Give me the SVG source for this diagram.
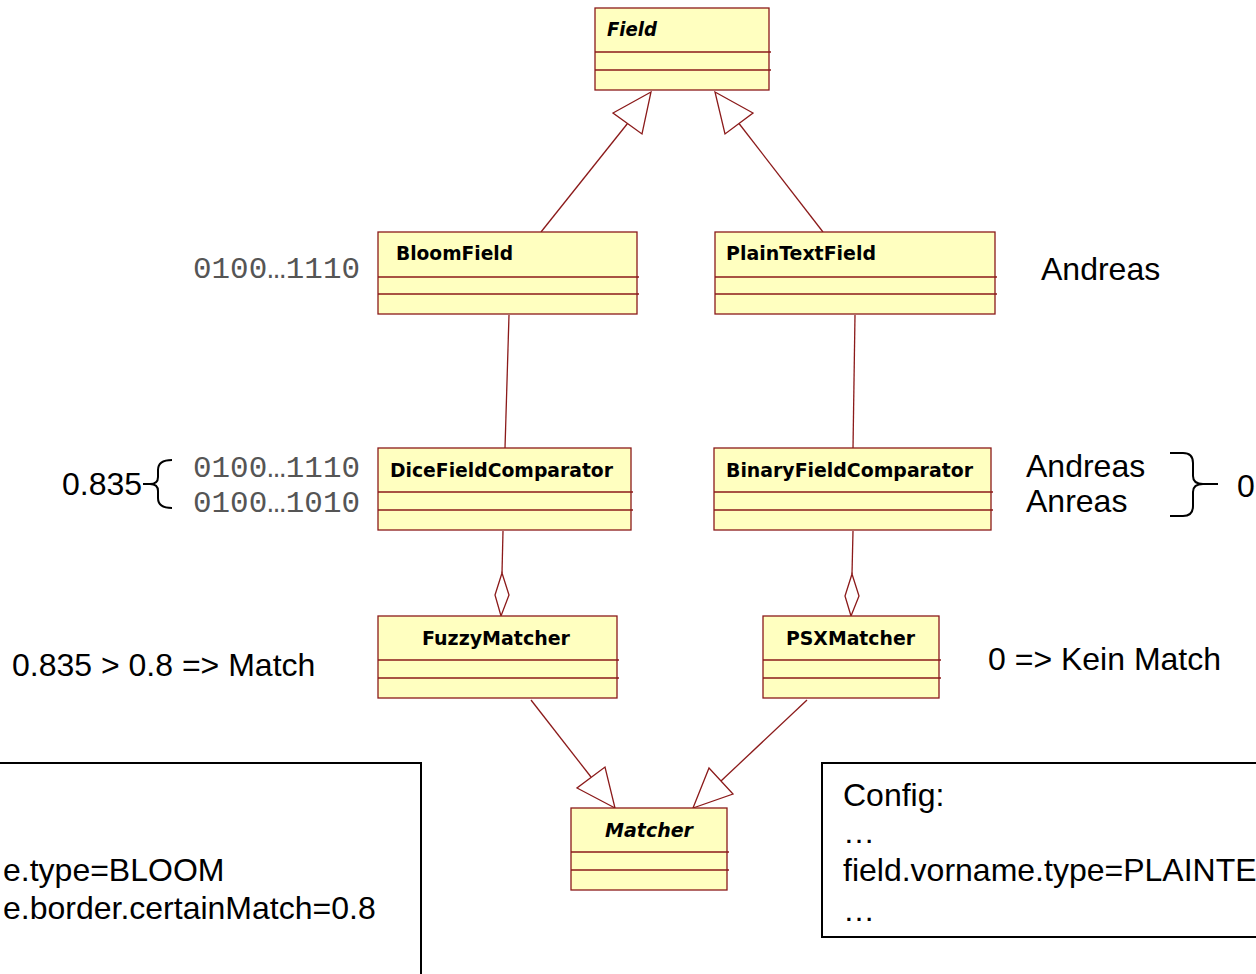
<svg xmlns="http://www.w3.org/2000/svg" width="1256" height="974" viewBox="0 0 1256 974">
<style>
.box{fill:#FFFFC0;stroke:#8B1A1A;stroke-width:1.3}
.sep{stroke:#8B1A1A;stroke-width:1.3}
.cls{font-family:"DejaVu Sans",Verdana,sans-serif;font-weight:bold;font-size:19.5px;fill:#000}
.abs{font-style:italic}
.lbl{font-family:"Liberation Sans",Arial,sans-serif;font-size:32px;fill:#000}
.mono{font-family:"Liberation Mono","Courier New",monospace;font-size:30px;fill:#555}
.edge{stroke:#8B1A1A;stroke-width:1.3;fill:none}
.head{stroke:#8B1A1A;stroke-width:1.3;fill:#fff}
.note{fill:none;stroke:#000;stroke-width:2}
.brace{fill:none;stroke:#000;stroke-width:2}
</style>
<rect width="1256" height="974" fill="#fff"/>
<g id="connectors">
<line class="edge" x1="541" y1="232" x2="627.5" y2="123.5"/>
<polygon class="head" points="651,92 613,113 642,134"/>
<line class="edge" x1="823" y1="232" x2="739" y2="123.5"/>
<polygon class="head" points="715,92 753,113 725,134"/>
<line class="edge" x1="509" y1="315" x2="505" y2="448"/>
<line class="edge" x1="855" y1="315" x2="853" y2="448"/>
<line class="edge" x1="503" y1="531" x2="502" y2="573"/>
<polygon class="head" points="502,573 509,595 501,616 495,595"/>
<line class="edge" x1="853" y1="531" x2="852" y2="574"/>
<polygon class="head" points="852,574 859,596 851,616 845,596"/>
<line class="edge" x1="531" y1="700" x2="591" y2="777"/>
<polygon class="head" points="615,808 577,788 605,767"/>
<line class="edge" x1="807" y1="700" x2="721" y2="781"/>
<polygon class="head" points="693,808 709,768 733,794"/>
</g>
<g id="Field">
<rect class="box" x="595" y="8" width="174" height="82"/>
<line class="sep" x1="595" y1="52" x2="771" y2="52"/>
<line class="sep" x1="595" y1="70" x2="771" y2="70"/>
<text class="cls abs" x="607" y="36" textLength="50" lengthAdjust="spacingAndGlyphs">Field</text>
</g>
<g id="BloomField">
<rect class="box" x="378" y="232" width="259" height="82"/>
<line class="sep" x1="378" y1="277" x2="639" y2="277"/>
<line class="sep" x1="378" y1="294" x2="639" y2="294"/>
<text class="cls" x="396" y="260" textLength="117" lengthAdjust="spacingAndGlyphs">BloomField</text>
</g>
<g id="PlainTextField">
<rect class="box" x="715" y="232" width="280" height="82"/>
<line class="sep" x1="715" y1="277" x2="997" y2="277"/>
<line class="sep" x1="715" y1="294" x2="997" y2="294"/>
<text class="cls" x="726" y="260" textLength="150" lengthAdjust="spacingAndGlyphs">PlainTextField</text>
</g>
<g id="DiceFieldComparator">
<rect class="box" x="378" y="448" width="253" height="82"/>
<line class="sep" x1="378" y1="492" x2="633" y2="492"/>
<line class="sep" x1="378" y1="510" x2="633" y2="510"/>
<text class="cls" x="390" y="477" textLength="223" lengthAdjust="spacingAndGlyphs">DiceFieldComparator</text>
</g>
<g id="BinaryFieldComparator">
<rect class="box" x="714" y="448" width="277" height="82"/>
<line class="sep" x1="714" y1="492" x2="993" y2="492"/>
<line class="sep" x1="714" y1="510" x2="993" y2="510"/>
<text class="cls" x="726" y="477" textLength="247" lengthAdjust="spacingAndGlyphs">BinaryFieldComparator</text>
</g>
<g id="FuzzyMatcher">
<rect class="box" x="378" y="616" width="239" height="82"/>
<line class="sep" x1="378" y1="660" x2="619" y2="660"/>
<line class="sep" x1="378" y1="678" x2="619" y2="678"/>
<text class="cls" x="422" y="645" textLength="148" lengthAdjust="spacingAndGlyphs">FuzzyMatcher</text>
</g>
<g id="PSXMatcher">
<rect class="box" x="763" y="616" width="176" height="82"/>
<line class="sep" x1="763" y1="660" x2="941" y2="660"/>
<line class="sep" x1="763" y1="678" x2="941" y2="678"/>
<text class="cls" x="786" y="645" textLength="129" lengthAdjust="spacingAndGlyphs">PSXMatcher</text>
</g>
<g id="Matcher">
<rect class="box" x="571" y="808" width="156" height="82"/>
<line class="sep" x1="571" y1="852" x2="729" y2="852"/>
<line class="sep" x1="571" y1="870" x2="729" y2="870"/>
<text class="cls abs" x="605" y="837" textLength="88" lengthAdjust="spacingAndGlyphs">Matcher</text>
</g>
<g id="annotations">
<text class="mono" x="193" y="278" textLength="167" lengthAdjust="spacingAndGlyphs">0100…1110</text>
<text class="lbl" x="1041" y="280">Andreas</text>
<text class="lbl" x="62" y="495">0.835</text>
<path class="brace" d="M143,484 L150,484 M172,460 Q158,460 158,470 L158,477 Q158,484 150,484 Q158,484 158,491 L158,498 Q158,508 172,508"/>
<text class="mono" x="193" y="477" textLength="167" lengthAdjust="spacingAndGlyphs">0100…1110</text>
<text class="mono" x="193" y="512" textLength="167" lengthAdjust="spacingAndGlyphs">0100…1010</text>
<text class="lbl" x="1026" y="477">Andreas</text>
<text class="lbl" x="1026" y="512">Anreas</text>
<path class="brace" d="M1170,453 L1183,453 Q1193,453 1193,463 L1193,476 Q1193,484 1203,484 L1218,484 M1203,484 Q1193,484 1193,492 L1193,506 Q1193,516 1183,516 L1170,516"/>
<text class="lbl" x="1237" y="497">0</text>
<text class="lbl" x="12" y="676">0.835 &gt; 0.8 =&gt; Match</text>
<text class="lbl" x="988" y="670">0 =&gt; Kein Match</text>
</g>
<g id="note-left">
<rect class="note" x="-5" y="763" width="426" height="230"/>
<text class="lbl" x="3" y="881">e.type=BLOOM</text>
<text class="lbl" x="3" y="919">e.border.certainMatch=0.8</text>
</g>
<g id="note-config">
<rect class="note" x="822" y="763" width="450" height="174"/>
<text class="lbl" x="843" y="806">Config:</text>
<text class="lbl" x="843" y="843">…</text>
<text class="lbl" x="843" y="881">field.vorname.type=PLAINTE</text>
<text class="lbl" x="843" y="921">…</text>
</g>
</svg>
